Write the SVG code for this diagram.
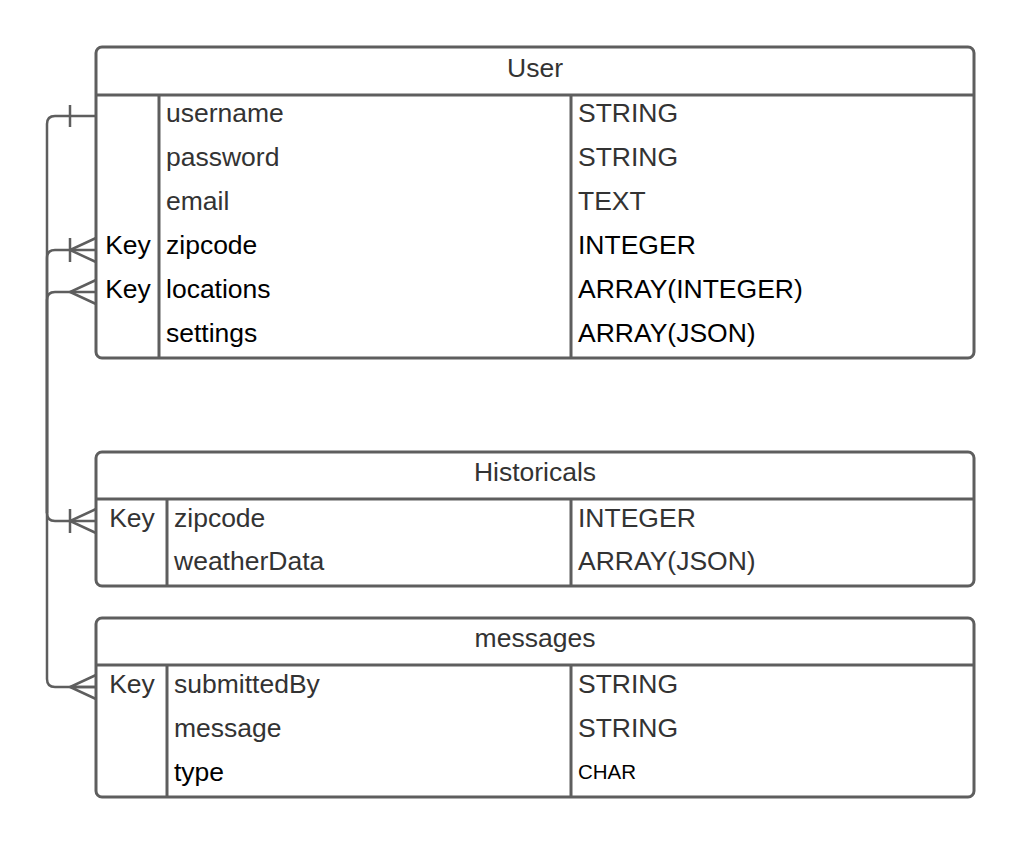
<svg xmlns="http://www.w3.org/2000/svg" width="1024" height="845" viewBox="0 0 1024 845">
<style>
.box{fill:#ffffff;stroke:#5e5e5e;stroke-width:3}
.ln{fill:none;stroke:#5e5e5e;stroke-width:3}
.conn{fill:none;stroke:#5e5e5e;stroke-width:2.5}
text{font-family:"Liberation Sans",Arial,sans-serif;font-size:26.5px}
.g{fill:#333333}
.k{fill:#000000}
.h{text-anchor:middle}
</style>
<rect width="1024" height="845" fill="#ffffff"/>
<g id="connectors">
<path class="conn" d="M96,116 H55 Q47,116 47,124 V679 Q47,687 55,687 H96"/>
<path class="conn" d="M70,105 V127"/>
<path class="conn" d="M96,687 H70 M96,675 L70,687 L96,699"/>
<path class="conn" d="M96,250 H55 Q47,250 47,258 V513 Q47,521 55,521 H96"/>
<path class="conn" d="M96,238 L70,250 L96,262 M70,238 V262"/>
<path class="conn" d="M96,292 H55 Q47,292 47,300 V513"/>
<path class="conn" d="M96,280 L70,292 L96,304"/>
<path class="conn" d="M96,509 L70,521 L96,533 M70,509 V533"/>
</g>
<g id="user">
<rect class="box" x="96" y="47" width="878" height="311" rx="6"/>
<path class="ln" d="M96,95 H974 M159,95 V358 M571,95 V358"/>
<text class="g h" x="535" y="77">User</text>
<text class="g" x="166" y="122">username</text><text class="g" x="578" y="122">STRING</text>
<text class="g" x="166" y="166">password</text><text class="g" x="578" y="166">STRING</text>
<text class="g" x="166" y="210">email</text><text class="g" x="578" y="210">TEXT</text>
<text class="k h" x="128" y="254">Key</text><text class="k" x="166" y="254">zipcode</text><text class="k" x="578" y="254">INTEGER</text>
<text class="k h" x="128" y="298">Key</text><text class="k" x="166" y="298">locations</text><text class="k" x="578" y="298">ARRAY(INTEGER)</text>
<text class="k" x="166" y="342">settings</text><text class="k" x="578" y="342">ARRAY(JSON)</text>
</g>
<g id="historicals">
<rect class="box" x="96" y="452" width="878" height="134" rx="6"/>
<path class="ln" d="M96,499 H974 M167,499 V586 M571,499 V586"/>
<text class="g h" x="535" y="481">Historicals</text>
<text class="g h" x="132" y="527">Key</text><text class="g" x="174" y="527">zipcode</text><text class="g" x="578" y="527">INTEGER</text>
<text class="g" x="174" y="570">weatherData</text><text class="g" x="578" y="570">ARRAY(JSON)</text>
</g>
<g id="messages">
<rect class="box" x="96" y="618" width="878" height="179" rx="6"/>
<path class="ln" d="M96,665 H974 M167,665 V797 M571,665 V797"/>
<text class="g h" x="535" y="647">messages</text>
<text class="g h" x="132" y="693">Key</text><text class="g" x="174" y="693">submittedBy</text><text class="g" x="578" y="693">STRING</text>
<text class="g" x="174" y="737">message</text><text class="g" x="578" y="737">STRING</text>
<text class="k" x="174" y="781">type</text><text class="k" x="578" y="779" style="font-size:20.5px">CHAR</text>
</g>
</svg>
